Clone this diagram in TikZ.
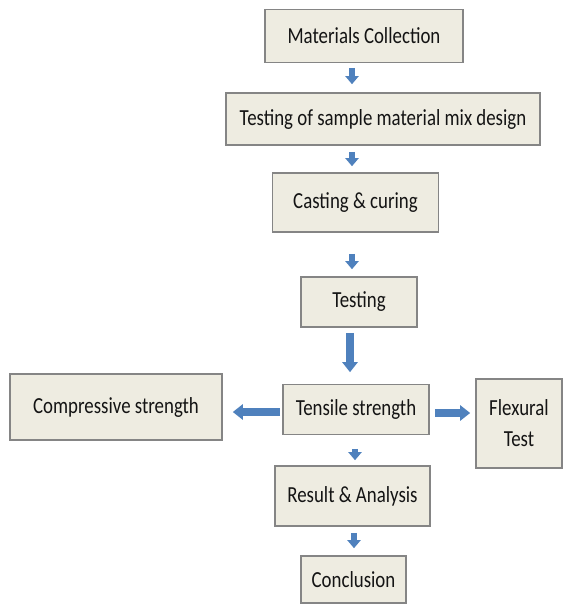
\documentclass[tikz,border=0pt]{standalone}
\usepackage{fontspec}
\setmainfont{Carlito}[FakeStretch=0.82]
\usetikzlibrary{arrows.meta}
\definecolor{boxfill}{HTML}{EEECE1}
\definecolor{boxline}{HTML}{858585}
\definecolor{arrowblue}{HTML}{4F81BD}
\definecolor{txt}{HTML}{141414}
\begin{document}
\begin{tikzpicture}[x=1pt,y=-1pt,
  stepbox/.style={draw=boxline, line width=1.6pt, fill=boxfill, text=txt,
    inner sep=0pt, align=center, font=\fontsize{23}{31}\selectfont},
  downarrow/.style={draw=arrowblue, line width=6pt,
    -{Triangle[width=13pt,length=8pt]}},
  bigarrow/.style={draw=arrowblue, line width=8pt,
    -{Triangle[width=15pt,length=10pt]}}]
\useasboundingbox (0,0) rectangle (563,605);
\coordinate (ax) at (352,0);
\coordinate (rowl) at (0,412);
\coordinate (rowr) at (0,413);
\node[stepbox, minimum width=198pt, minimum height=53pt] (mat) at (364,36) {Materials Collection};
\node[stepbox, minimum width=314pt, minimum height=52pt] (tsm) at (383,119) {Testing of sample material mix design};
\node[stepbox, minimum width=166pt, minimum height=59pt] (cast) at (355.5,202.5) {Casting \& curing};
\node[stepbox, minimum width=116pt, minimum height=50pt] (test) at (359,302) {Testing};
\node[stepbox, minimum width=146pt, minimum height=50pt] (tens) at (356,409.5) {Tensile strength};
\node[stepbox, minimum width=212pt, minimum height=66pt] (comp) at (116,407) {Compressive strength};
\node[stepbox, minimum width=86pt, minimum height=89pt] (flex) at (519,423.5) {Flexural\\Test};
\node[stepbox, minimum width=155pt, minimum height=60pt] (res) at (352.5,496) {Result \& Analysis};
\node[stepbox, minimum width=105pt, minimum height=47pt] (conc) at (353.5,579.5) {Conclusion};
\draw[downarrow, shorten <=4.5pt, shorten >=8pt] (mat.south -| ax) -- (tsm.north -| ax);
\draw[downarrow, shorten <=6pt, shorten >=6pt] (tsm.south -| ax) -- (cast.north -| ax);
\draw[downarrow, shorten <=21pt, shorten >=7pt] (cast.south -| ax) -- (test.north -| ax);
\draw[bigarrow, shorten <=5pt, shorten >=11.5pt] ([xshift=-2pt]test.south -| ax) -- ([xshift=-2pt]tens.north -| ax);
\draw[downarrow, shorten <=13.5pt, shorten >=5pt] ([xshift=3pt]tens.south -| ax) -- ([xshift=3pt]res.north -| ax);
\draw[downarrow, shorten <=6pt, shorten >=7pt] ([xshift=2pt]res.south -| ax) -- ([xshift=2pt]conc.north -| ax);
\draw[bigarrow, shorten <=2pt, shorten >=10pt] (tens.west |- rowl) -- (comp.east |- rowl);
\draw[bigarrow, shorten <=5pt, shorten >=5pt] (tens.east |- rowr) -- (flex.west |- rowr);
\end{tikzpicture}
\end{document}
